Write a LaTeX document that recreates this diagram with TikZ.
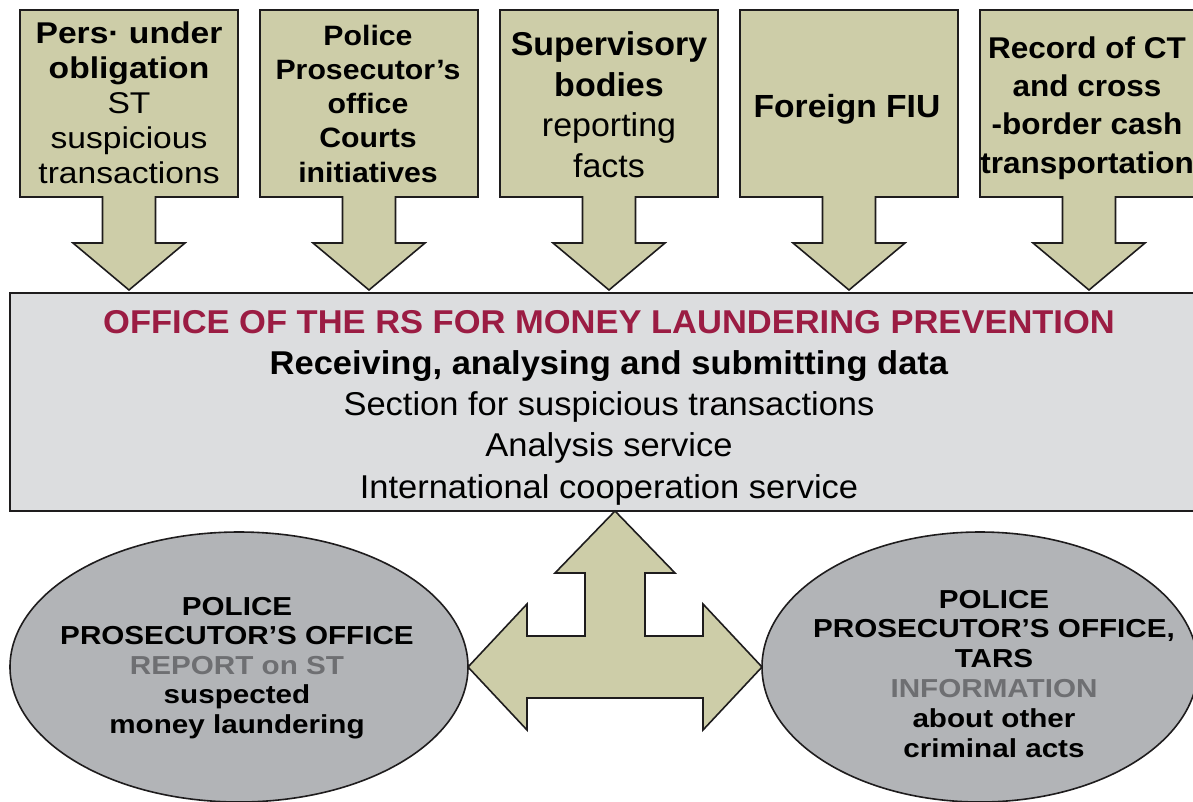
\documentclass[tikz,border=0pt]{standalone}
\usepackage{fontspec}
\setmainfont{Liberation Sans}
% slightly widened faces for the different text blocks
\newfontfamily\fontA[FakeStretch=1.12]{Liberation Sans}
\newfontfamily\fontB[FakeStretch=1.08]{Liberation Sans}
\newfontfamily\fontC[FakeStretch=1.03]{Liberation Sans}
\newfontfamily\fontD[FakeStretch=1.05]{Liberation Sans}
\newfontfamily\fontM[FakeStretch=1.045]{Liberation Sans}
\newfontfamily\fontE[FakeStretch=1.14]{Liberation Sans}
\usetikzlibrary{shapes.geometric,calc}

\definecolor{khaki}{RGB}{205,205,168}
\definecolor{mainfill}{RGB}{220,221,223}
\definecolor{ovalfill}{RGB}{178,180,183}
\definecolor{titlered}{RGB}{155,28,67}
\definecolor{softgray}{RGB}{110,111,114}
\definecolor{linecol}{RGB}{30,28,29}

\begin{document}
\begin{tikzpicture}[x=1pt,y=-1pt,
  outline/.style={draw=linecol, line width=1.6pt, line join=miter},
  topbox/.style={minimum width=218, minimum height=187, inner sep=0pt, outer sep=0pt, anchor=north west},
  mainbox/.style={outline, fill=mainfill, minimum width=1190, minimum height=218, inner sep=0pt, outer sep=0pt, anchor=north west},
  oval/.style={ellipse, outline, fill=ovalfill, inner sep=0pt, outer sep=0pt},
  lbl/.style={anchor=base, align=center, inner sep=0pt, text=black}
]
\path[use as bounding box, clip] (0,0) rectangle (1193,801);

% source boxes along the top
\node[topbox] (b1) at (20,10) {};
\node[topbox] (b2) at (260,10) {};
\node[topbox] (b3) at (500,10) {};
\node[topbox] (b4) at (740,10) {};
\node[topbox] (b5) at (980,10) {};

% each box with its downward arrow as one outline
\foreach \i in {1,...,5}{
  \draw[outline, fill=khaki] (b\i.north west) -- (b\i.north east) -- (b\i.south east)
    -- ($(b\i.south)+(26.5,0)$) -- ++(0,46) -- ++(29.5,0) -- ($(b\i.south)+(0,93)$)
    -- ($(b\i.south)+(-56,46)$) -- ++(29.5,0) -- ($(b\i.south)+(-26.5,0)$)
    -- (b\i.south west) -- cycle;
}

% central office
\node[mainbox] (main) at (10,293) {};

% recipients
\node[oval, minimum width=458, minimum height=270] (le) at (239,667) {};
\node[oval, minimum width=436, minimum height=270] (re) at (980,667) {};

% three-way arrow between the office and the recipients
\coordinate (hub) at (615,667);
\draw[outline, fill=khaki] (hub |- main.south)
  -- ($(hub)+(60,-94)$) -- ($(hub)+(30,-94)$) -- ($(hub)+(30,-31)$)
  -- ($(hub)+(88,-31)$) -- ($(hub)+(88,-63)$) -- (re.west)
  -- ($(hub)+(88,63)$) -- ($(hub)+(88,31)$) -- ($(hub)+(-88,31)$)
  -- ($(hub)+(-88,63)$) -- (le.east) -- ($(hub)+(-88,-63)$)
  -- ($(hub)+(-88,-31)$) -- ($(hub)+(-30,-31)$) -- ($(hub)+(-30,-94)$)
  -- ($(hub)+(-60,-94)$) -- cycle;

% texts (each node is placed by the baseline of its last line)
\node[lbl, font=\fontA\fontsize{30}{35}\selectfont] (t1) at (129,183)
  {\textbf{Pers· under}\\\textbf{obligation}\\ST\\suspicious\\transactions};
\node[lbl, font=\fontB\bfseries\fontsize{28}{34.25}\selectfont] (t2) at (368,182)
  {Police\\Prosecutor’s\\office\\Courts\\initiatives};
\node[lbl, font=\fontC\fontsize{33}{40.5}\selectfont] (t3) at (609,177)
  {\textbf{Supervisory}\\\textbf{bodies}\\reporting\\facts};
\node[lbl, font=\fontD\bfseries\fontsize{32}{38}\selectfont] (t4) at (847,117)
  {Foreign FIU};
\node[lbl, font=\fontD\bfseries\fontsize{30}{38.3}\selectfont] (t5) at (1087,173)
  {Record of CT\\and cross\\-border cash\\transportation};

\node[lbl, font=\fontM\fontsize{33}{41.25}\selectfont] (tm) at (609,498)
  {\textcolor{titlered}{\textbf{OFFICE OF THE RS FOR MONEY LAUNDERING PREVENTION}}\\
   \textbf{Receiving, analysing and submitting data}\\
   Section for suspicious transactions\\
   Analysis service\\
   International cooperation service};

\node[lbl, font=\fontE\bfseries\fontsize{26}{29.5}\selectfont] (tl) at (237,733)
  {POLICE\\PROSECUTOR’S OFFICE\\\textcolor{softgray}{REPORT on ST}\\suspected\\money laundering};
\node[lbl, font=\fontE\bfseries\fontsize{26}{29.8}\selectfont] (tr) at (994,757)
  {POLICE\\PROSECUTOR’S OFFICE,\\TARS\\\textcolor{softgray}{INFORMATION}\\about other\\criminal acts};
\end{tikzpicture}
\end{document}
